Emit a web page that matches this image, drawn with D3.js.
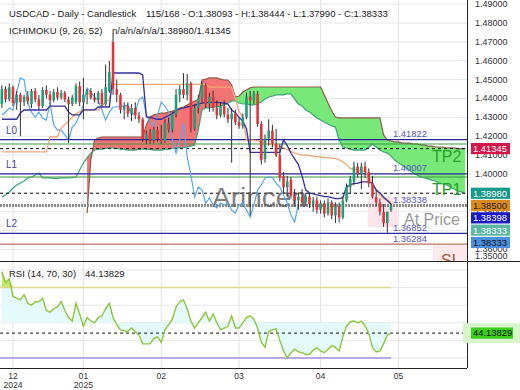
<!DOCTYPE html>
<html>
<head>
<meta charset="utf-8">
<script src="https://cdn.jsdelivr.net/npm/d3@7"></script>
<style>
body{margin:0;background:#fff;}
text{font-family:"Liberation Sans",Arial,sans-serif;}
</style>
</head>
<body>
<script>
// ---- data ----
var opens  = [1.4370,1.4450,1.4395,1.4460,1.4375,1.4420,1.4380,1.4410,1.4370,1.4440,
              1.4395,1.4360,1.4445,1.4420,1.4390,1.4435,1.4405,1.4430,1.4395,1.4370,
              1.4380,1.4465,1.4380,1.4420,1.4440,1.4405,1.4390,1.4430,1.4370,1.4440,
              1.4700,1.4450,1.4420,1.4340,1.4360,1.4320,1.4350,1.4310,1.4290,1.4185,
              1.4215,1.4180,1.4235,1.4185,1.4175,1.4270,1.4235,1.4320,1.4420,1.4450,
              1.4420,1.4480,1.4240,1.4350,1.4400,1.4470,1.4370,1.4410,1.4350,1.4310,
              1.4360,1.4315,1.4290,1.4320,1.4275,1.4255,1.4300,1.4410,1.4390,1.4425,
              1.4265,1.4080,1.4190,1.4230,1.4160,1.4100,1.3990,1.3930,1.3970,1.3885,
              1.3860,1.3880,1.3850,1.3880,1.3840,1.3860,1.3810,1.3845,1.3790,1.3850,
              1.3780,1.3830,1.3770,1.3860,1.3930,1.3960,1.4040,1.4000,1.4040,1.4010,
              1.3950,1.3880,1.3850,1.3800,1.3740,1.38093];
var highs  = [1.4470,1.4465,1.4480,1.4470,1.4440,1.4430,1.4420,1.4440,1.4450,1.4455,
              1.4420,1.4460,1.4470,1.4440,1.4450,1.4460,1.4445,1.4440,1.4410,1.4420,
              1.4480,1.4490,1.4510,1.4450,1.4455,1.4430,1.4440,1.4450,1.4580,1.4600,
              1.4745,1.4500,1.4430,1.4380,1.4380,1.4370,1.4380,1.4330,1.4300,1.4230,
              1.4240,1.4250,1.4250,1.4260,1.4290,1.4300,1.4330,1.4450,1.4470,1.4535,
              1.4530,1.4490,1.4370,1.4420,1.4490,1.4480,1.4430,1.4440,1.4390,1.4380,
              1.4390,1.4350,1.4350,1.4340,1.4300,1.4320,1.4430,1.4440,1.4440,1.4440,
              1.4280,1.4210,1.4290,1.4260,1.4240,1.4160,1.4010,1.3990,1.3985,1.3920,
              1.3900,1.3920,1.3900,1.3900,1.3880,1.3880,1.3860,1.3860,1.3870,1.3860,
              1.3850,1.3850,1.3880,1.3950,1.3990,1.4065,1.4060,1.4060,1.4065,1.4030,
              1.3990,1.3920,1.3870,1.3840,1.3800,1.38444];
var lows   = [1.4350,1.4380,1.4385,1.4360,1.4340,1.4200,1.4360,1.4370,1.4350,1.4380,
              1.4340,1.4350,1.4400,1.4370,1.4380,1.4390,1.4395,1.4380,1.4165,1.4360,
              1.4370,1.4360,1.4290,1.4370,1.4395,1.4380,1.4370,1.4360,1.4360,1.4430,
              1.4420,1.4380,1.4320,1.4290,1.4300,1.4280,1.4290,1.4270,1.4170,1.4160,
              1.4160,1.4165,1.4170,1.4160,1.4165,1.4220,1.4220,1.4300,1.4380,1.4400,
              1.4390,1.4220,1.4230,1.4320,1.4380,1.4350,1.4330,1.4330,1.4290,1.4300,
              1.4300,1.4270,1.4060,1.4260,1.4240,1.4240,1.4290,1.3780,1.4370,1.4250,
              1.4050,1.4060,1.4150,1.4140,1.4090,1.3960,1.3900,1.3880,1.3870,1.3840,
              1.3810,1.3830,1.3830,1.3820,1.3800,1.3790,1.3790,1.3770,1.3780,1.3760,
              1.3740,1.3745,1.3760,1.3850,1.3900,1.3940,1.3980,1.3920,1.3980,1.3930,
              1.3870,1.3830,1.3780,1.3720,1.3689,1.37990];
var closes = [1.4450,1.4395,1.4460,1.4375,1.4420,1.4380,1.4410,1.4385,1.4440,1.4395,
              1.4360,1.4445,1.4420,1.4390,1.4435,1.4405,1.4430,1.4395,1.4370,1.4405,
              1.4465,1.4380,1.4420,1.4440,1.4405,1.4390,1.4430,1.4370,1.4460,1.4540,
              1.4450,1.4420,1.4340,1.4360,1.4320,1.4350,1.4310,1.4290,1.4185,1.4215,
              1.4180,1.4235,1.4185,1.4175,1.4270,1.4235,1.4320,1.4420,1.4450,1.4420,
              1.4480,1.4240,1.4350,1.4400,1.4470,1.4370,1.4410,1.4350,1.4310,1.4360,
              1.4315,1.4290,1.4320,1.4275,1.4255,1.4300,1.4410,1.4390,1.4425,1.4265,
              1.4075,1.4190,1.4230,1.4160,1.4100,1.3980,1.3930,1.3960,1.3885,1.3860,
              1.3880,1.3850,1.3880,1.3840,1.3860,1.3810,1.3845,1.3790,1.3850,1.3780,
              1.3830,1.3770,1.3860,1.3930,1.3975,1.4040,1.4000,1.4040,1.4010,1.3950,
              1.3880,1.3850,1.3800,1.3740,1.3800,1.38333];

var tenkan = [1.4290,1.4290,1.4290,1.4290,1.4290,1.4323,1.4339,1.4339,1.4339,1.4339,
              1.4339,1.4339,1.4339,1.4360,1.4360,1.4360,1.4360,1.4360,1.4328,1.4313,
              1.4313,1.4313,1.4340,1.4340,1.4340,1.4340,1.4355,1.4355,1.4355,1.4355,
              1.4535,1.4535,1.4535,1.4535,1.4535,1.4535,1.4535,1.4535,1.4525,1.4302,
              1.4300,1.4295,1.4290,1.4290,1.4300,1.4310,1.4320,1.4335,1.4345,1.4350,
              1.4355,1.4360,1.4365,1.4370,1.4376,1.4378,1.4380,1.4380,1.4380,1.4378,
              1.4375,1.4370,1.4339,1.4325,1.4300,1.4280,1.4240,1.4115,1.4115,1.4115,
              1.4115,1.4115,1.4115,1.4115,1.4115,1.4115,1.4180,1.4150,1.4110,1.4080,
              1.4050,1.3990,1.3915,1.3900,1.3895,1.3890,1.3885,1.3880,1.3880,1.3875,
              1.3870,1.3870,1.3875,1.3931,1.3942,1.3950,1.3950,1.3958,1.3958,1.3958,
              1.3950,1.3915,1.3900,1.3878,1.3860,1.38398];
var kijun  = [1.4117,1.4117,1.4117,1.4117,1.4117,1.4117,1.4117,1.4117,1.4117,1.4117,
              1.4117,1.4117,1.4117,1.4196,1.4196,1.4196,1.4244,1.4262,1.4280,1.4300,
              1.4320,1.4330,1.4335,1.4339,1.4339,1.4339,1.4339,1.4360,1.4380,1.4395,
              1.4475,1.4475,1.4475,1.4475,1.4475,1.4475,1.4475,1.4475,1.4475,1.4475,
              1.4475,1.4475,1.4475,1.4475,1.4475,1.4475,1.4475,1.4475,1.4475,1.4475,
              1.4475,1.4475,1.4475,1.4475,1.4475,1.4475,1.4460,1.4460,1.4460,1.4460,
              1.4460,1.4460,1.4460,1.4400,1.4330,1.4300,1.4180,1.4180,1.4180,1.4175,
              1.4170,1.4165,1.4160,1.4155,1.4150,1.4145,1.4140,1.4130,1.4120,1.4110,
              1.4105,1.4100,1.4100,1.4098,1.4095,1.4092,1.4090,1.4088,1.4086,1.4084,
              1.4082,1.4075,1.4065,1.4050,1.4030,1.4025,1.4020,1.4018,1.4015,1.3984,
              1.3952,1.3915,1.3889,1.3870,1.3860,1.3850];
var chikou = [1.4313,1.4328,1.4350,1.4339,1.4434,1.4509,1.4498,1.4376,1.4328,1.4302,
              1.4328,1.4297,1.4286,1.4376,1.4260,1.4233,1.4233,1.4207,1.4180,1.4249,
              1.4270,1.4313,1.4366,1.4456,1.4434,1.4408,1.4392,1.4339,1.4286,1.4328,
              1.4355,1.4355,1.4360,1.4360,1.4366,1.4313,1.4328,1.4392,1.4408,1.4313,
              1.4276,1.4249,1.4313,1.4381,1.4360,1.4328,1.4180,1.4111,1.4180,1.4270,
              1.4090,1.3995,1.3878,1.3931,1.3915,1.3846,1.3873,1.3836,1.3820,1.3846,
              1.3836,1.3846,1.3809,1.3793,1.3836,1.3846,1.3809,1.3772,1.3836,1.3915,
              1.3942,1.3979,1.3984,1.3979,1.3952,1.3931,1.3889,1.3846,1.3783,1.3746,
              1.3841];
var senkouA = [1.3878,1.3889,1.3905,1.3926,1.3942,1.3952,1.3963,1.3979,1.3984,1.3995,
               1.4005,1.3979,1.3979,1.3979,1.3977,1.3977,1.3979,1.3979,1.3979,1.3982,
               1.3984,1.4021,1.4058,1.4085,1.4111,1.4127,1.4132,1.4132,1.4135,1.4138,
               1.4138,1.4135,1.4132,1.4130,1.4127,1.4127,1.4127,1.4130,1.4132,1.4132,
               1.4130,1.4127,1.4127,1.4127,1.4130,1.4132,1.4135,1.4138,1.4138,1.4140,
               1.4143,1.4148,1.4154,1.4233,1.4339,1.4350,1.4350,1.4355,1.4355,1.4360,
               1.4366,1.4376,1.4387,1.4387,1.4376,1.4371,1.4371,1.4366,1.4366,1.4371,
               1.4381,1.4397,1.4408,1.4413,1.4419,1.4419,1.4419,1.4424,1.4424,1.4397,
               1.4371,1.4360,1.4339,1.4328,1.4313,1.4297,1.4286,1.4276,1.4265,1.4254,
               1.4249,1.4180,1.4143,1.4138,1.4132,1.4127,1.4127,1.4127,1.4127,1.4143,
               1.4159,1.4143,1.4127,1.4117,1.4111,1.4095,1.4074,1.4058,1.4048,1.4032,
               1.4021,1.4005,1.3995,1.3984,1.3979,1.3974,1.3968,1.3963,1.3952,1.3947,
               1.3942,1.3931,1.3921,1.3910,1.3905,1.3898];
var senkouB = [null,null,null,null,null,null,null,null,null,null,
               null,null,null,null,null,null,null,null,null,null,
               null,null,null,1.3793,1.4074,1.4180,1.4191,1.4196,1.4196,1.4196,
               1.4196,1.4196,1.4196,1.4196,1.4196,1.4196,1.4196,1.4196,1.4196,1.4260,
               1.4302,1.4313,1.4318,1.4323,1.4323,1.4328,1.4334,1.4339,1.4350,1.4355,
               1.4366,1.4376,1.4387,1.4392,1.4498,1.4503,1.4509,1.4509,1.4509,1.4503,
               1.4498,1.4498,1.4472,1.4408,1.4413,1.4434,1.4445,1.4456,1.4461,1.4461,
               1.4461,1.4461,1.4461,1.4461,1.4461,1.4461,1.4461,1.4461,1.4461,1.4461,
               1.4461,1.4461,1.4461,1.4461,1.4461,1.4461,1.4461,1.4419,1.4376,1.4334,
               1.4302,1.4297,1.4297,1.4297,1.4297,1.4297,1.4297,1.4297,1.4297,1.4297,
               1.4297,1.4297,1.4297,1.4207,1.4180,1.4175,1.4170,1.4170,1.4164,1.4164,
               1.4164,1.4159,1.4159,1.4154,1.4154,1.4148,1.4148,1.4143,1.4143,1.4143,
               1.4138,1.4138,1.4138,1.41345,1.41345,1.41345];
var kumoTwist = 63;   // first slot of the green cloud

var rsi = [79,73,75,65,64,63,66,61,60,62,
           62,64,57,56,58,59,62,57,53,51,
           61,55,48,53,51,50,53,54,58,61,
           53,49,46,45.5,45,47,45,43,38,38,
           38,41,42,39,46,49,52,59,62,63,
           58,51,47,50,53,56,51,55,50,46,
           47,48,54,47,47,50,53,54,52,47,
           39,36,45,46,46.5,40,34,30,33,35,
           33.5,33,32,32,34.5,35.7,34,33,35,37,
           36,34,42,48,50.6,51,50,51,48.3,44,
           36,33.4,34,38,43,44.13829];

var monthIdx   = [3, 22, 43, 64, 86, 107];
var monthLabel = ["12", "01", "02", "03", "04", "05"];
var yearLabel  = ["2024", "2025", "", "", "", ""];
var priceTicks = [1.35,1.36,1.37,1.38,1.39,1.40,1.41,1.42,1.43,1.44,1.45,1.46,1.47,1.48,1.49];
var rsiTicks   = [20,30,40,50,60,70,80,90];

var levelPrices = [1.41822, 1.41590, 1.41345, 1.40007, 1.39840, 1.38980, 1.38338, 1.36852, 1.36284];
var levelNames  = ["L0", "", "TP2", "L1", "", "TP1", "At Price", "L2", "SL"];
var tagValues   = [1.41345, 1.38980, 1.38500, 1.38398, 1.38333, 1.38333];
var zoneBars    = [99, 107];
var zonePrices  = [1.3878, 1.3719];

// ---- layout ----
var W = 520, H = 390, plotW = 467, mainBot = 261, rsiTop = 261, rsiBot = 368;
var fmt5 = d3.format(".5f");

var svg = d3.select("body").append("svg")
	.attr("width", W).attr("height", H).style("display", "block");

var x = d3.scaleLinear().domain([-0.5, 125.5]).range([0, plotW]);
var y = d3.scaleLinear().domain([1.353914, 1.492185]).range([mainBot, 0]);
var yr = d3.scaleLinear().domain([24.29, 85.14]).range([rsiBot, rsiTop]);

var defs = svg.append("defs");
defs.append("clipPath").attr("id", "cmain").append("rect")
	.attr("x", 0).attr("y", 0).attr("width", plotW).attr("height", mainBot);
defs.append("clipPath").attr("id", "crsi").append("rect")
	.attr("x", 0).attr("y", rsiTop).attr("width", plotW).attr("height", rsiBot - rsiTop);
defs.append("clipPath").attr("id", "crsilab").append("rect")
	.attr("x", plotW).attr("y", rsiTop - 6).attr("width", W - plotW).attr("height", rsiBot - rsiTop + 7);

// grid
var grid = svg.append("g");
grid.selectAll(".hg").data(priceTicks.filter(function(d){ return y(d) > 0 && y(d) < mainBot; }))
	.enter().append("line")
	.attr("x1", 0).attr("x2", plotW)
	.attr("y1", function(d){ return y(d); }).attr("y2", function(d){ return y(d); })
	.attr("stroke", "#e7e7e7");
grid.selectAll(".rg").data(rsiTicks.filter(function(d){ return yr(d) > rsiTop && yr(d) < rsiBot; }))
	.enter().append("line")
	.attr("x1", 0).attr("x2", plotW)
	.attr("y1", function(d){ return yr(d); }).attr("y2", function(d){ return yr(d); })
	.attr("stroke", "#e7e7e7");
grid.selectAll(".vg").data(monthIdx).enter().append("line")
	.attr("x1", function(d){ return x(d); }).attr("x2", function(d){ return x(d); })
	.attr("y1", 0).attr("y2", rsiBot)
	.attr("stroke", "#e3e3e3");

// ---- main panel ----
var main = svg.append("g").attr("clip-path", "url(#cmain)");

main.append("rect")
	.attr("x", x(zoneBars[0]) - 1).attr("width", x(zoneBars[1]) - x(zoneBars[0]))
	.attr("y", y(zonePrices[0])).attr("height", y(zonePrices[1]) - y(zonePrices[0]))
	.attr("fill", "#fde4ea");

// cloud
var slots = d3.range(senkouA.length).map(function(i){ return {i: i, a: senkouA[i], b: senkouB[i]}; });
var cloud = d3.area()
	.x(function(d){ return x(d.i); })
	.y0(function(d){ return y(d.a); })
	.y1(function(d){ return y(d.b); });
main.append("path")
	.datum(slots.filter(function(d){ return d.b != null && d.i <= kumoTwist; }))
	.attr("d", cloud).attr("fill", "#f37474");
main.append("path")
	.datum(slots.filter(function(d){ return d.i >= kumoTwist; }))
	.attr("d", cloud).attr("fill", "#78e878");

function seriesLine(scale){
	return d3.line()
		.defined(function(d){ return d != null; })
		.x(function(d, i){ return x(i); })
		.y(function(d){ return scale(d); });
}
main.append("path").datum(senkouA).attr("d", seriesLine(y))
	.attr("fill", "none").attr("stroke", "#3aa77a").attr("stroke-width", 1.2);
main.append("path").datum(senkouB).attr("d", seriesLine(y))
	.attr("fill", "none").attr("stroke", "#8d5a48").attr("stroke-width", 1.2);

// horizontal levels
var levelColor = ["#28289a", "#3b9a3b", "#111", "#28289a", "#3b9a3b", "#111", "#8c8c8c", "#28289a", "#b87462"];
var levelDash  = [null, null, "3,3", null, null, "3,3", "2,1", null, null];
var levelWidth = [1.2, 1, 1, 1.2, 1, 1, 3, 1.2, 1.2];
var levelTag   = [true, false, false, true, false, false, true, true, true];

main.append("rect")
	.attr("x", 433).attr("width", plotW - 433)
	.attr("y", y(levelPrices[8]) + 1).attr("height", mainBot - y(levelPrices[8]))
	.attr("fill", "#fde8ea");

main.selectAll(".lvl").data(levelPrices).enter().append("line")
	.attr("x1", 0).attr("x2", plotW)
	.attr("y1", function(d){ return y(d); }).attr("y2", function(d){ return y(d); })
	.attr("stroke", function(d, i){ return levelColor[i]; })
	.attr("stroke-width", function(d, i){ return levelWidth[i]; })
	.attr("stroke-dasharray", function(d, i){ return levelDash[i]; });

main.selectAll(".lvt").data(levelPrices.filter(function(d, i){ return levelTag[i]; }))
	.enter().append("text")
	.attr("x", 393).attr("y", function(d){ return y(d) - 2.5; })
	.attr("font-size", 9.4).attr("fill", "#5656c8")
	.text(function(d){ return fmt5(d); });

main.selectAll(".lvn").data(levelNames.filter(function(d){ return /^L\d/.test(d); }))
	.enter().append("text")
	.attr("x", 6)
	.attr("y", function(d){ return y(levelPrices[levelNames.indexOf(d)]) - 6; })
	.attr("font-size", 10).attr("fill", "#4646a8")
	.text(function(d){ return d; });

// watermark
main.append("text").attr("x", 212).attr("y", 207)
	.attr("font-size", 28).attr("fill", "#555").attr("fill-opacity", 0.75)
	.text("Arincen");

// ichimoku lines
main.append("path").datum(chikou).attr("d", seriesLine(y))
	.attr("fill", "none").attr("stroke", "#5aa9e6").attr("stroke-width", 1.2);
main.append("path").datum(kijun).attr("d", seriesLine(y))
	.attr("fill", "none").attr("stroke", "#f2a77a").attr("stroke-width", 1.3);
main.append("path").datum(tenkan).attr("d", seriesLine(y))
	.attr("fill", "none").attr("stroke", "#34309c").attr("stroke-width", 1.3);

// candles
var bars = d3.range(closes.length);
main.selectAll(".wick").data(bars).enter().append("line")
	.attr("x1", function(i){ return x(i); }).attr("x2", function(i){ return x(i); })
	.attr("y1", function(i){ return y(highs[i]); }).attr("y2", function(i){ return y(lows[i]); })
	.attr("stroke", "#333").attr("stroke-width", 1);
main.selectAll(".body").data(bars).enter().append("rect")
	.attr("x", function(i){ return x(i) - 1.3; })
	.attr("width", 2.6)
	.attr("y", function(i){ return y(Math.max(opens[i], closes[i])); })
	.attr("height", function(i){ return Math.max(1, Math.abs(y(opens[i]) - y(closes[i]))); })
	.attr("fill", function(i){ return closes[i] >= opens[i] ? "#1f9e78" : "#e3343c"; });

// zone captions
var capDy = {"TP2": 13, "TP1": 2, "At Price": 20, "SL": 22};
var capColor = {"TP2": "#2ca02c", "TP1": "#2ca02c", "At Price": "#9a9a9a", "SL": "#a8583e"};
var capX = {"TP2": 432, "TP1": 432, "At Price": 404, "SL": 441};
main.selectAll(".cap").data(levelNames.filter(function(d){ return capDy[d] != null; }))
	.enter().append("text")
	.attr("x", function(d){ return capX[d]; })
	.attr("y", function(d){ return y(levelPrices[levelNames.indexOf(d)]) + capDy[d]; })
	.attr("font-size", 16)
	.attr("fill", function(d){ return capColor[d]; })
	.text(function(d){ return d; });

// ---- RSI panel ----
var rp = svg.append("g").attr("clip-path", "url(#crsi)");
rp.append("path").datum(rsi)
	.attr("d", d3.area().x(function(d, i){ return x(i); }).y0(yr(50)).y1(function(d){ return yr(d); }))
	.attr("fill", "#e4fafa");
rp.append("path").datum(rsi)
	.attr("d", d3.area().x(function(d, i){ return x(i); }).y0(yr(70)).y1(function(d){ return yr(Math.max(d, 70)); }))
	.attr("fill", "#c6e66a");
rp.append("line").attr("x1", 0).attr("x2", x(closes.length - 1))
	.attr("y1", yr(70)).attr("y2", yr(70)).attr("stroke", "#d9d98a").attr("stroke-width", 1.5);
rp.append("line").attr("x1", 0).attr("x2", x(closes.length - 1))
	.attr("y1", yr(30)).attr("y2", yr(30)).attr("stroke", "#a48fe0").attr("stroke-width", 1.5);
rp.append("line").attr("x1", 0).attr("x2", plotW)
	.attr("y1", yr(rsi[rsi.length - 1])).attr("y2", yr(rsi[rsi.length - 1]))
	.attr("stroke", "#111").attr("stroke-dasharray", "3,3");
rp.append("path").datum(rsi).attr("d", seriesLine(yr))
	.attr("fill", "none").attr("stroke", "#8cc63f").attr("stroke-width", 1.4);

// ---- frame ----
svg.append("line").attr("x1", 0).attr("x2", W).attr("y1", mainBot + 0.5).attr("y2", mainBot + 0.5).attr("stroke", "#222");
svg.append("line").attr("x1", 0).attr("x2", plotW).attr("y1", rsiBot + 0.5).attr("y2", rsiBot + 0.5).attr("stroke", "#222");
svg.append("line").attr("x1", plotW + 0.5).attr("x2", plotW + 0.5).attr("y1", 0).attr("y2", rsiBot).attr("stroke", "#222");

// price tag positions (stacked downward so they never overlap)
var prev = -100;
var tagY = tagValues.map(function(v){ prev = Math.max(y(v), prev + 12.3); return prev; });

// price axis: labels that sit under a tag are covered in the original, so leave them out
var shownTicks = priceTicks.filter(function(d){
	var ty = Math.min(Math.max(y(d), 4), 256);
	return !tagY.some(function(t){ return Math.abs(t - ty) < 6; });
});
var pa = svg.append("g").attr("transform", "translate(" + plotW + ",0)")
	.call(d3.axisRight(y).tickValues(shownTicks).tickSize(0).tickPadding(8).tickFormat(fmt5));
pa.select(".domain").remove();
pa.selectAll(".tick").attr("transform", function(d){ return "translate(0," + Math.min(Math.max(y(d), 4), 256) + ")"; });
pa.selectAll("text").attr("font-size", 9).attr("fill", "#333").style("font-family", "Liberation Sans, Arial, sans-serif");

// rsi axis
var ra = svg.append("g").attr("transform", "translate(" + plotW + ",0)").attr("clip-path", "url(#crsilab)")
	.call(d3.axisRight(yr).tickValues(rsiTicks).tickSize(0).tickPadding(8).tickFormat(fmt5));
ra.select(".domain").remove();
ra.selectAll(".tick").attr("transform", function(d){ return "translate(0," + Math.min(Math.max(yr(d), 263), 369) + ")"; });
ra.selectAll("text").attr("font-size", 9).attr("fill", "#333").style("font-family", "Liberation Sans, Arial, sans-serif");

// price tags
var tagFill = ["#d3164a", "#17998b", "#db8a1f", "#1818c6", "#5db7a6", "#4b8fe2"];
var tagInk  = ["#fff", "#fff", "#222", "#fff", "#fff", "#111"];
var tg = svg.append("g").selectAll("g").data(tagValues).enter().append("g")
	.attr("transform", function(d, i){ return "translate(471," + tagY[i] + ")"; });
tg.append("rect").attr("x", 0).attr("y", -5.6).attr("width", 39).attr("height", 11.2)
	.attr("fill", function(d, i){ return tagFill[i]; });
tg.append("text").attr("x", 2).attr("y", 3.4).attr("font-size", 9.4)
	.attr("fill", function(d, i){ return tagInk[i]; })
	.text(function(d){ return fmt5(d); });

var rsiNow = rsi[rsi.length - 1];
svg.append("rect").attr("x", 463).attr("y", yr(rsiNow) - 10).attr("width", 57).attr("height", 20).attr("fill", "#d8f6cc");
svg.append("rect").attr("x", 471).attr("y", yr(rsiNow) - 5.6).attr("width", 42).attr("height", 11.2).attr("fill", "#3ccf1c");
svg.append("text").attr("x", 473).attr("y", yr(rsiNow) + 3.4).attr("font-size", 9.4).attr("fill", "#111")
	.text(fmt5(rsiNow));

// date axis
var xa = svg.append("g");
xa.selectAll(".m").data(monthIdx).enter().append("text")
	.attr("x", function(d){ return x(d); }).attr("y", 379)
	.attr("text-anchor", "middle").attr("font-size", 8.6).attr("fill", "#333")
	.text(function(d, i){ return monthLabel[i]; });
xa.selectAll(".yy").data(monthIdx).enter().append("text")
	.attr("x", function(d){ return x(d); }).attr("y", 388)
	.attr("text-anchor", "middle").attr("font-size", 8.6).attr("fill", "#333")
	.text(function(d, i){ return yearLabel[i]; });

// headers
var last = closes.length - 1;
var hd = svg.append("g").attr("font-size", 9.5).attr("fill", "#222");
hd.append("text").attr("x", 9).attr("y", 17).text("USDCAD - Daily - Candlestick");
hd.append("text").attr("x", 146).attr("y", 17)
	.text("115/168 - O:" + fmt5(opens[last]) + " - H:" + fmt5(highs[last]) + " - L:" + fmt5(lows[last]) + " - C:" + fmt5(closes[last]));
hd.append("text").attr("x", 9).attr("y", 34).text("ICHIMOKU (9, 26, 52)");
hd.append("text").attr("x", 112).attr("y", 34)
	.text("n/a/n/a/n/a/" + fmt5(tagValues[1]) + "/" + fmt5(tagValues[0]));
hd.append("text").attr("x", 9).attr("y", 277).text("RSI (14, 70, 30)");
hd.append("text").attr("x", 85).attr("y", 277).text(fmt5(rsiNow));
</script>
</body>
</html>
